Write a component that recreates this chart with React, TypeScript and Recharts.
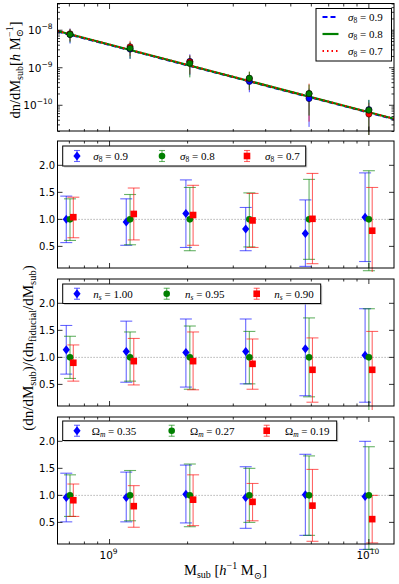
import React from 'react';
import { ComposedChart, Scatter, Line, XAxis, YAxis, ErrorBar, ReferenceLine } from 'recharts';

// ---------- data ----------
const massGreen = [7.04e8, 1.2e9, 2.04e9, 3.46e9, 5.88e9, 1.0e10];
const massBlue = [6.81e8, 1.16e9, 1.97e9, 3.35e9, 5.69e9, 9.67e9];
const massRed = [7.25e8, 1.24e9, 2.1e9, 3.56e9, 6.06e9, 1.03e10];

// top panel: dn/dM for sigma8 variants
const topGreenVal = [7.74e-9, 3.3e-9, 1.32e-9, 5.28e-10, 2.04e-10, 7.38e-11];
const topGreenLo = [4.72e-9, 1.75e-9, 5.54e-10, 2.59e-10, 5.3e-11, 3.69e-12];
const topGreenHi = [1.068e-8, 4.82e-9, 2.1e-9, 7.87e-10, 3.55e-10, 1.4e-10];
const topBlueVal = [7.74e-9, 3.14e-9, 1.47e-9, 4.33e-10, 1.51e-10, 7.68e-11];
const topBlueLo = [4.41e-9, 1.72e-9, 6.34e-10, 2.22e-10, 2.65e-11, 1.62e-11];
const topBlueHi = [1.107e-8, 4.55e-9, 2.28e-9, 6.44e-10, 2.77e-10, 1.37e-10];
const topRedVal = [8.05e-9, 3.63e-9, 1.43e-9, 5.17e-10, 2.06e-10, 5.83e-11];
const topRedLo = [5.11e-9, 2.05e-9, 6.86e-10, 2.53e-10, 3.67e-11, 1e-12];
const topRedHi = [1.091e-8, 5.21e-9, 2.15e-9, 7.81e-10, 3.77e-10, 1.17e-10];

// model lines (power laws) at the axis limits
const lineMass = [6.3e8, 1.25e10];
const lineBlue = [9.3e-9, 4.26e-11];
const lineGreen = [9.55e-9, 4.37e-11];
const lineRed = [9.55e-9, 4.37e-11];

// ratio panels
const s8BlueVal = [1.0, 0.95, 1.11, 0.82, 0.74, 1.04];
const s8BlueLo = [0.57, 0.52, 0.48, 0.42, 0.13, 0.22];
const s8BlueHi = [1.43, 1.38, 1.73, 1.22, 1.36, 1.86];
const s8GreenVal = [1, 1, 1, 1, 1, 1];
const s8GreenLo = [0.61, 0.53, 0.42, 0.49, 0.26, 0.05];
const s8GreenHi = [1.38, 1.46, 1.59, 1.49, 1.74, 1.9];
const s8RedVal = [1.04, 1.1, 1.08, 0.98, 1.01, 0.79];
const s8RedLo = [0.66, 0.62, 0.52, 0.48, 0.18, 0.0];
const s8RedHi = [1.41, 1.58, 1.63, 1.48, 1.85, 1.59];

const nsBlueVal = [1.14, 1.11, 1.09, 1.11, 1.16, 1.04];
const nsBlueLo = [0.69, 0.54, 0.45, 0.51, 0.29, 0.17];
const nsBlueHi = [1.59, 1.67, 1.71, 1.71, 2.01, 1.9];
const nsGreenVal = [1, 1, 1, 1, 1, 1];
const nsGreenLo = [0.61, 0.56, 0.41, 0.51, 0.27, 0.0];
const nsGreenHi = [1.39, 1.47, 1.58, 1.48, 1.73, 1.9];
const nsRedVal = [0.9, 0.93, 0.93, 0.88, 0.77, 0.77];
const nsRedLo = [0.56, 0.49, 0.4, 0.41, 0.17, 0.0];
const nsRedHi = [1.23, 1.35, 1.47, 1.34, 1.36, 1.48];

const omBlueVal = [0.96, 0.96, 1.02, 0.96, 1.01, 0.98];
const omBlueLo = [0.51, 0.51, 0.49, 0.39, 0.26, 0.0];
const omBlueHi = [1.41, 1.43, 1.56, 1.53, 1.76, 2.0];
const omGreenVal = [1, 1, 1, 1, 1, 1];
const omGreenLo = [0.61, 0.53, 0.42, 0.5, 0.26, 0.0];
const omGreenHi = [1.38, 1.46, 1.58, 1.5, 1.73, 1.9];
const omRedVal = [0.91, 0.8, 0.92, 0.88, 0.81, 0.56];
const omRedLo = [0.61, 0.41, 0.44, 0.53, 0.15, 0.12];
const omRedHi = [1.21, 1.18, 1.38, 1.22, 1.48, 1.0];

// ticks / labels
const xTicks = [7e8, 8e8, 9e8, 1e9, 2e9, 3e9, 4e9, 5e9, 6e9, 7e9, 8e9, 9e9, 1e10];
const xMajorTicks = [1e9, 1e10];
const xMajorLabels = ['9', '10'];
const topYTicks = [
  2e-11, 3e-11, 4e-11, 5e-11, 6e-11, 7e-11, 8e-11, 9e-11,
  1e-10, 2e-10, 3e-10, 4e-10, 5e-10, 6e-10, 7e-10, 8e-10, 9e-10,
  1e-9, 2e-9, 3e-9, 4e-9, 5e-9, 6e-9, 7e-9, 8e-9, 9e-9,
  1e-8, 2e-8, 3e-8, 4e-8, 5e-8,
];
const topYMajor = [1e-10, 1e-9, 1e-8];
const topYMajorLabels = ['−10', '−9', '−8'];
const ratioTicks = [0.5, 1.0, 1.5, 2.0];

const topLegend = [
  { sym: 'σ', sub: '8', val: '0.9' },
  { sym: 'σ', sub: '8', val: '0.8' },
  { sym: 'σ', sub: '8', val: '0.7' },
];

// ---------- layout ----------
const W = 399;
const PLOT_LEFT = 57.5;
const PLOT_RIGHT = 394;
const PANELS = [
  { top: 3.5, bottom: 131 },
  { top: 141, bottom: 268 },
  { top: 279, bottom: 406 },
  { top: 417, bottom: 544 },
];
const X_DOMAIN = [6.3e8, 1.25e10];
const TOP_Y_DOMAIN = [2e-11, 5e-8];
const RATIO_DOMAIN = [0.1, 2.45];
const M = 3;

const BLUE = '#0000ff';
const GREEN = '#008000';
const RED = '#ff0000';
const SERIF = '"Liberation Serif", "DejaVu Serif", serif';
const SANS = '"DejaVu Sans", sans-serif';

const pts = (xs: number[], vs: number[], lo: number[], hi: number[]) =>
  xs.map((x, i) => ({ x, y: vs[i], err: [vs[i] - lo[i], hi[i] - vs[i]] }));

// ---------- shapes ----------
const Diamond = (p: any) => (
  <path d={`M${p.cx},${p.cy - 4.5}L${p.cx + 3.6},${p.cy}L${p.cx},${p.cy + 4.5}L${p.cx - 3.6},${p.cy}Z`} fill={BLUE} />
);
const GreenDot = (p: any) => <circle cx={p.cx} cy={p.cy} r={3.3} fill={GREEN} />;
const RedSquare = (p: any) => <rect x={p.cx - 3.3} y={p.cy - 3.3} width={6.6} height={6.6} fill={RED} />;
const EdgeDot = (color: string) => (p: any) => (
  <circle cx={p.cx} cy={p.cy} r={3.1} fill={color} stroke="#000" strokeWidth={0.5} />
);

// ---------- ticks ----------
const makeXTick = (plotTop: number, plotBottom: number, showLabel: boolean) => (props: any) => {
  const { x, payload } = props;
  const v = payload.value;
  const mi = xMajorTicks.indexOf(v);
  const major = mi >= 0;
  const len = major ? 5 : 2.5;
  return (
    <g>
      <line x1={x} x2={x} y1={plotBottom} y2={plotBottom - len} stroke="#000" strokeWidth={0.8} />
      <line x1={x} x2={x} y1={plotTop} y2={plotTop + len} stroke="#000" strokeWidth={0.8} />
      {showLabel && major && (
        <text x={x - 1} y={plotBottom + 14.5} textAnchor="middle" fontFamily={SANS} fontSize={10.5} fill="#000">
          10
          <tspan dy={-5} fontSize={7.5}>{xMajorLabels[mi]}</tspan>
        </text>
      )}
    </g>
  );
};

const makeRatioYTick = () => (props: any) => {
  const { y, payload } = props;
  const v = payload.value;
  return (
    <g>
      <line x1={PLOT_LEFT} x2={PLOT_LEFT + 5} y1={y} y2={y} stroke="#000" strokeWidth={0.8} />
      <line x1={PLOT_RIGHT} x2={PLOT_RIGHT - 5} y1={y} y2={y} stroke="#000" strokeWidth={0.8} />
      <text x={55} y={y + 3.7} textAnchor="end" fontFamily={SANS} fontSize={10} fill="#000">
        {v.toFixed(1)}
      </text>
    </g>
  );
};

const makeLogYTick = () => (props: any) => {
  const { y, payload } = props;
  const v = payload.value;
  const mi = topYMajor.findIndex((t) => Math.abs(t - v) / t < 1e-6);
  const major = mi >= 0;
  const len = major ? 5 : 2.5;
  return (
    <g>
      <line x1={PLOT_LEFT} x2={PLOT_LEFT + len} y1={y} y2={y} stroke="#000" strokeWidth={0.8} />
      <line x1={PLOT_RIGHT} x2={PLOT_RIGHT - len} y1={y} y2={y} stroke="#000" strokeWidth={0.8} />
      {major && (
        <text x={52.5} y={y + 3.8} textAnchor="end" fontFamily={SANS} fontSize={10.5} fill="#000">
          10
          <tspan dy={-5} fontSize={7.5}>{topYMajorLabels[mi]}</tspan>
        </text>
      )}
    </g>
  );
};

// ---------- panels ----------
function TopPanel() {
  const p = PANELS[0];
  const h = p.bottom - p.top;
  const lineData = (ys: number[]) => lineMass.map((x, i) => ({ x, y: ys[i] }));
  return (
    <div style={{ position: 'absolute', left: 0, top: p.top - M }}>
      <ComposedChart width={W} height={h + M + 4} margin={{ top: M, right: W - PLOT_RIGHT, bottom: 0, left: 0 }}>
        <XAxis dataKey="x" type="number" scale="log" domain={X_DOMAIN} allowDataOverflow ticks={xTicks} interval={0}
          tick={makeXTick(M, M + h, false)} tickLine={false} axisLine={false} height={4} />
        <YAxis dataKey="y" type="number" scale="log" domain={TOP_Y_DOMAIN} allowDataOverflow ticks={topYTicks} interval={0}
          tick={makeLogYTick()} tickLine={false} axisLine={false} width={PLOT_LEFT} />
        <Line data={lineData(lineBlue)} dataKey="y" stroke={BLUE} strokeWidth={2} strokeDasharray="5 3" dot={false} isAnimationActive={false} />
        <Line data={lineData(lineGreen)} dataKey="y" stroke={GREEN} strokeWidth={2.2} dot={false} isAnimationActive={false} />
        <Line data={lineData(lineRed)} dataKey="y" stroke={RED} strokeWidth={2} strokeDasharray="1.5 3" dot={false} isAnimationActive={false} />
        <Scatter data={pts(massGreen, topBlueVal, topBlueLo, topBlueHi)} dataKey="y" shape={EdgeDot(BLUE)} isAnimationActive={false}>
          <ErrorBar dataKey="err" direction="y" width={0} stroke={BLUE} strokeWidth={1} strokeOpacity={0.7} />
        </Scatter>
        <Scatter data={pts(massGreen, topRedVal, topRedLo, topRedHi)} dataKey="y" shape={EdgeDot(RED)} isAnimationActive={false}>
          <ErrorBar dataKey="err" direction="y" width={0} stroke={RED} strokeWidth={1} strokeOpacity={0.7} />
        </Scatter>
        <Scatter data={pts(massGreen, topGreenVal, topGreenLo, topGreenHi)} dataKey="y" shape={EdgeDot(GREEN)} isAnimationActive={false}>
          <ErrorBar dataKey="err" direction="y" width={0} stroke={GREEN} strokeWidth={1} strokeOpacity={0.8} />
        </Scatter>
      </ComposedChart>
    </div>
  );
}

type RatioProps = {
  idx: number;
  blue: any[];
  green: any[];
  red: any[];
  bottom?: boolean;
};

function RatioPanel({ idx, blue, green, red, bottom }: RatioProps) {
  const p = PANELS[idx];
  const h = p.bottom - p.top;
  const xh = bottom ? 40 : 4;
  return (
    <div style={{ position: 'absolute', left: 0, top: p.top - M }}>
      <ComposedChart width={W} height={h + M + xh} margin={{ top: M, right: W - PLOT_RIGHT, bottom: 0, left: 0 }}>
        <XAxis dataKey="x" type="number" scale="log" domain={X_DOMAIN} allowDataOverflow ticks={xTicks} interval={0}
          tick={makeXTick(M, M + h, !!bottom)} tickLine={false} axisLine={false} height={xh} />
        <YAxis dataKey="y" type="number" domain={RATIO_DOMAIN} allowDataOverflow ticks={ratioTicks} interval={0}
          tick={makeRatioYTick()} tickLine={false} axisLine={false} width={PLOT_LEFT} />
        <ReferenceLine y={1} stroke="#888" strokeWidth={0.8} strokeDasharray="1.2 1.8" />
        <Scatter data={blue} dataKey="y" shape={Diamond} isAnimationActive={false}>
          <ErrorBar dataKey="err" direction="y" width={6} stroke={BLUE} strokeWidth={1.1} strokeOpacity={0.6} />
        </Scatter>
        <Scatter data={green} dataKey="y" shape={GreenDot} isAnimationActive={false}>
          <ErrorBar dataKey="err" direction="y" width={6} stroke={GREEN} strokeWidth={1.1} strokeOpacity={0.6} />
        </Scatter>
        <Scatter data={red} dataKey="y" shape={RedSquare} isAnimationActive={false}>
          <ErrorBar dataKey="err" direction="y" width={6} stroke={RED} strokeWidth={1.1} strokeOpacity={0.6} />
        </Scatter>
      </ComposedChart>
    </div>
  );
}

// ---------- overlay (frames, legends, titles) ----------
const LegendMarker = ({ kind, x, y }: { kind: string; x: number; y: number }) => {
  const color = kind === 'd' ? BLUE : kind === 'o' ? GREEN : RED;
  return (
    <g>
      <line x1={x} x2={x} y1={y - 5.5} y2={y + 5.5} stroke={color} strokeOpacity={0.6} strokeWidth={1.1} />
      <line x1={x - 3} x2={x + 3} y1={y - 5.5} y2={y - 5.5} stroke={color} strokeOpacity={0.6} strokeWidth={1.1} />
      <line x1={x - 3} x2={x + 3} y1={y + 5.5} y2={y + 5.5} stroke={color} strokeOpacity={0.6} strokeWidth={1.1} />
      {kind === 'd' && <Diamond cx={x} cy={y} />}
      {kind === 'o' && <GreenDot cx={x} cy={y} />}
      {kind === 's' && <RedSquare cx={x} cy={y} />}
    </g>
  );
};

const MathText = ({ x, y, sym, sub, val, symItalic, subItalic }: any) => (
  <text x={x} y={y} fontFamily={SERIF} fontSize={11} fill="#000" style={{ whiteSpace: 'pre' }}>
    <tspan fontStyle={symItalic ? 'italic' : 'normal'}>{sym}</tspan>
    <tspan fontSize={7.5} dy={2.5} fontStyle={subItalic ? 'italic' : 'normal'}>{sub}</tspan>
    <tspan dy={-2.5}>{' = ' + val}</tspan>
  </text>
);

type LegendSpec = {
  box: [number, number, number, number];
  markerX: number[];
  textX: number[];
  items: { sym: string; sub: string; val: string }[];
  symItalic: boolean;
  subItalic: boolean;
};

const ratioLegends: LegendSpec[] = [
  {
    box: [62.7, 146, 243, 20],
    markerX: [77, 162, 247],
    textX: [93.3, 180, 265],
    items: [
      { sym: 'σ', sub: '8', val: '0.9' },
      { sym: 'σ', sub: '8', val: '0.8' },
      { sym: 'σ', sub: '8', val: '0.7' },
    ],
    symItalic: true,
    subItalic: false,
  },
  {
    box: [62.7, 284, 258, 19.5],
    markerX: [77, 166.7, 256.7],
    textX: [93.3, 185, 274.3],
    items: [
      { sym: 'n', sub: 's', val: '1.00' },
      { sym: 'n', sub: 's', val: '0.95' },
      { sym: 'n', sub: 's', val: '0.90' },
    ],
    symItalic: true,
    subItalic: true,
  },
  {
    box: [62.7, 421, 274, 19.5],
    markerX: [77, 171.7, 266.7],
    textX: [91.7, 190, 285],
    items: [
      { sym: 'Ω', sub: 'm', val: '0.35' },
      { sym: 'Ω', sub: 'm', val: '0.27' },
      { sym: 'Ω', sub: 'm', val: '0.19' },
    ],
    symItalic: false,
    subItalic: true,
  },
];

function Overlay() {
  const kinds = ['d', 'o', 's'];
  const topLegY = [17, 34, 51];
  return (
    <svg width={W} height={584} style={{ position: 'absolute', left: 0, top: 0, pointerEvents: 'none' }}>
      {PANELS.map((p, i) => (
        <rect key={i} x={PLOT_LEFT} y={p.top} width={PLOT_RIGHT - PLOT_LEFT} height={p.bottom - p.top} fill="none" stroke="#000" strokeWidth={1} />
      ))}
      {/* top legend */}
      <rect x={316} y={8.5} width={75.5} height={52.5} fill="#fff" stroke="#000" strokeWidth={1} />
      <line x1={322.5} x2={338.5} y1={topLegY[0]} y2={topLegY[0]} stroke={BLUE} strokeWidth={2} strokeDasharray="5 3" />
      <line x1={322.5} x2={338.5} y1={topLegY[1]} y2={topLegY[1]} stroke={GREEN} strokeWidth={2.2} />
      <line x1={322.5} x2={338.5} y1={topLegY[2]} y2={topLegY[2]} stroke={RED} strokeWidth={2} strokeDasharray="1.5 3" />
      {topLegend.map((it, i) => (
        <MathText key={i} x={348} y={topLegY[i] + 3.8} sym={it.sym} sub={it.sub} val={it.val} symItalic subItalic={false} />
      ))}
      {/* ratio legends */}
      {ratioLegends.map((lg, li) => {
        const [bx, by, bw, bh] = lg.box;
        const cy = by + bh / 2;
        return (
          <g key={li}>
            <rect x={bx + 1.5} y={by + 1.5} width={bw} height={bh} fill="#999" fillOpacity={0.5} />
            <rect x={bx} y={by} width={bw} height={bh} fill="#fff" stroke="#000" strokeWidth={1} />
            {lg.items.map((it, i) => (
              <g key={i}>
                <LegendMarker kind={kinds[i]} x={lg.markerX[i]} y={cy} />
                <MathText x={lg.textX[i]} y={cy + 3.8} sym={it.sym} sub={it.sub} val={it.val} symItalic={lg.symItalic} subItalic={lg.subItalic} />
              </g>
            ))}
          </g>
        );
      })}
      {/* top y title */}
      <text x={19.5} y={70} transform="rotate(-90 19.5 70)" textAnchor="middle" fontFamily={SERIF} fontSize={14.5} fill="#000" style={{ whiteSpace: 'pre' }}>
        dn/dM<tspan fontSize={10} dy={3}>sub</tspan>
        <tspan dy={-3}>[</tspan>
        <tspan fontStyle="italic">h</tspan>
        <tspan> M</tspan>
        <tspan fontSize={10} dy={3.5}>⊙</tspan>
        <tspan fontSize={10} dx={-8} dy={-10}>−1</tspan>
        <tspan dy={6.5}>]</tspan>
      </text>
      {/* ratio y title */}
      <text x={33} y={348} transform="rotate(-90 33 348)" textAnchor="middle" fontFamily={SERIF} fontSize={15} fill="#000">
        (dn/dM<tspan fontSize={10.5} dy={3}>sub</tspan>
        <tspan dy={-3}>)/(dn</tspan>
        <tspan fontSize={10.5} dy={3}>fiducial</tspan>
        <tspan dy={-3}>/dM</tspan>
        <tspan fontSize={10.5} dy={3}>sub</tspan>
        <tspan dy={-3}>)</tspan>
      </text>
      {/* x title */}
      <text x={225.5} y={575} textAnchor="middle" fontFamily={SERIF} fontSize={14.5} fill="#000" style={{ whiteSpace: 'pre' }}>
        M<tspan fontSize={10} dy={3}>sub</tspan>
        <tspan dy={-3}> [</tspan>
        <tspan fontStyle="italic">h</tspan>
        <tspan fontSize={10} dy={-6}>−1</tspan>
        <tspan dy={6}> M</tspan>
        <tspan fontSize={10} dy={3.5}>⊙</tspan>
        <tspan dy={-3.5}>]</tspan>
      </text>
    </svg>
  );
}

export default function App() {
  return (
    <div style={{ position: 'absolute', left: 0, top: 0, width: W, height: 584, background: '#fff', overflow: 'hidden' }}>
      <TopPanel />
      <RatioPanel idx={1}
        blue={pts(massBlue, s8BlueVal, s8BlueLo, s8BlueHi)}
        green={pts(massGreen, s8GreenVal, s8GreenLo, s8GreenHi)}
        red={pts(massRed, s8RedVal, s8RedLo, s8RedHi)} />
      <RatioPanel idx={2}
        blue={pts(massBlue, nsBlueVal, nsBlueLo, nsBlueHi)}
        green={pts(massGreen, nsGreenVal, nsGreenLo, nsGreenHi)}
        red={pts(massRed, nsRedVal, nsRedLo, nsRedHi)} />
      <RatioPanel idx={3} bottom
        blue={pts(massBlue, omBlueVal, omBlueLo, omBlueHi)}
        green={pts(massGreen, omGreenVal, omGreenLo, omGreenHi)}
        red={pts(massRed, omRedVal, omRedLo, omRedHi)} />
      <Overlay />
    </div>
  );
}
